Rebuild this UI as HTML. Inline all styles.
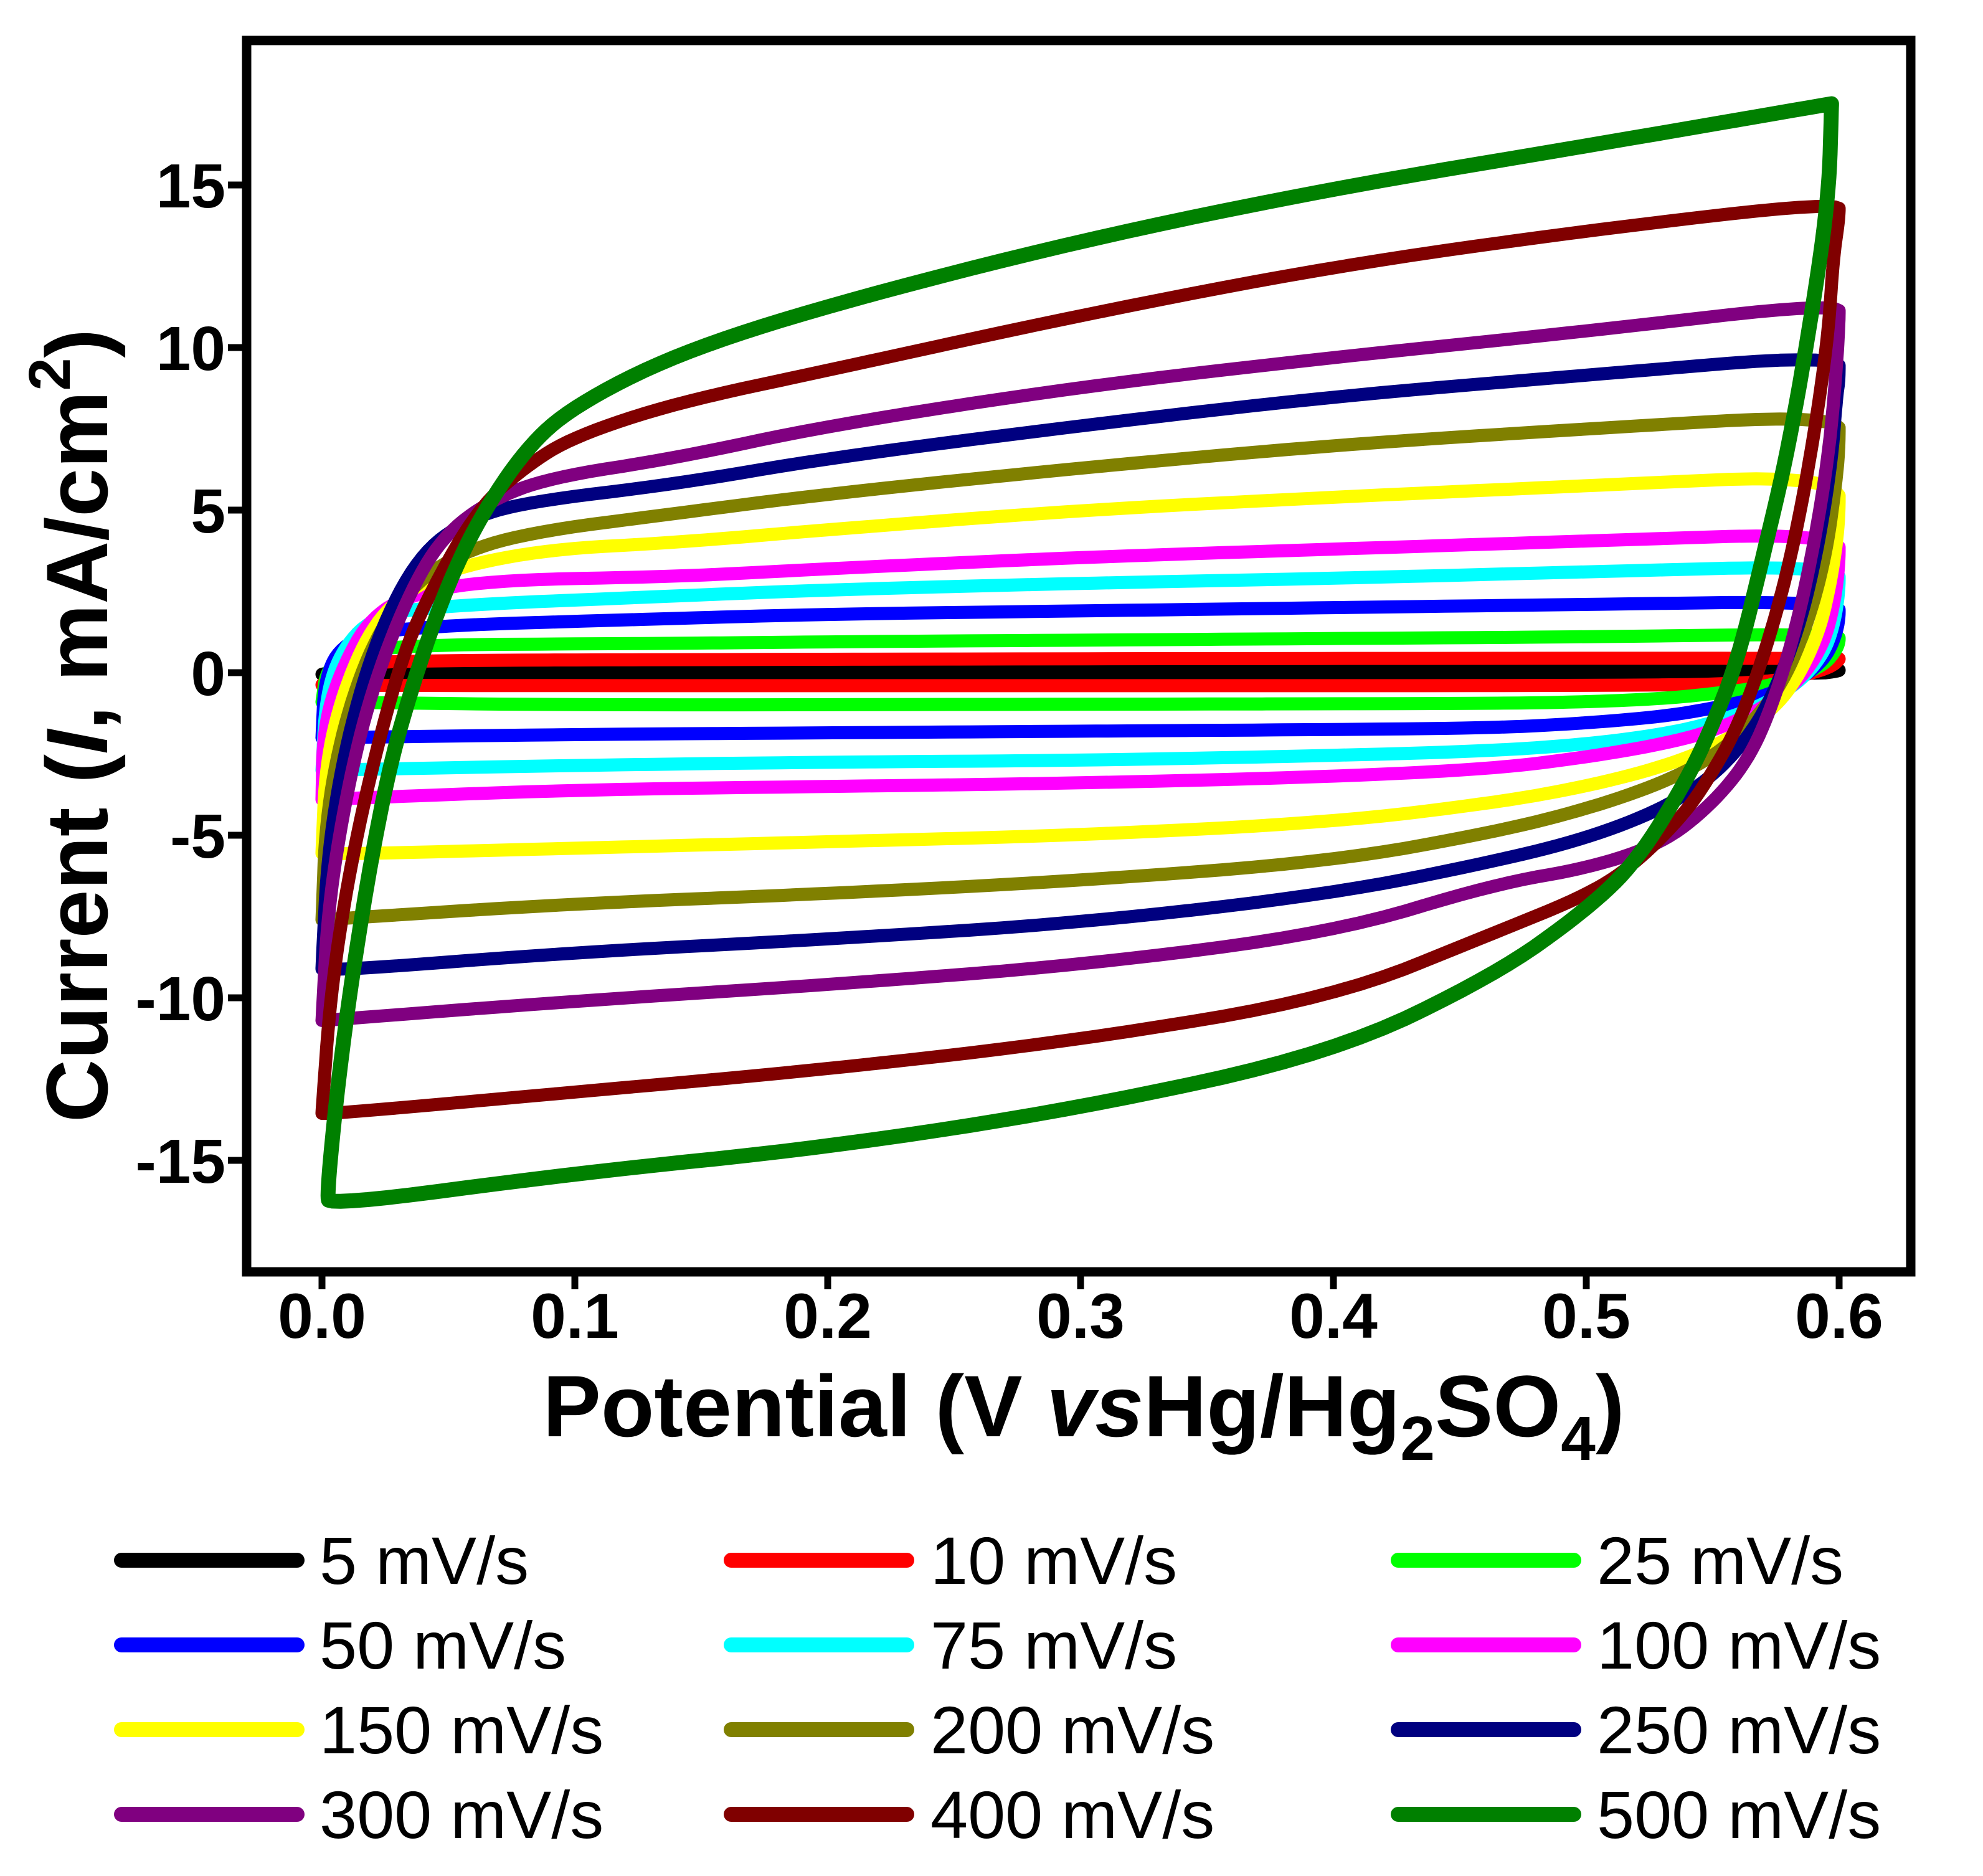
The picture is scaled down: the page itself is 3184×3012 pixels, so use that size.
<!DOCTYPE html>
<html><head><meta charset="utf-8"><style>
html,body{margin:0;padding:0;background:#fff}
svg{display:block}
text{font-family:"Liberation Sans",Arial,sans-serif}
</style></head><body>
<svg id="chart" width="3184" height="3012" viewBox="0 0 3184 3012" xmlns="http://www.w3.org/2000/svg">
<rect x="0" y="0" width="3184" height="3012" fill="#fff"/>
<g id="curves"></g>
<rect x="396" y="65" width="2672" height="1977" fill="none" stroke="#000" stroke-width="15"/>
<g id="axes"></g>
<text x="1740" y="2306" font-size="140" font-weight="bold" text-anchor="middle">Potential (V <tspan font-style="italic">vs</tspan>Hg/Hg<tspan font-size="100" dy="38">2</tspan><tspan dy="-38">SO</tspan><tspan font-size="100" dy="38">4</tspan><tspan dy="-38">)</tspan></text>
<text transform="translate(172,1165) rotate(-90)" font-size="140" font-weight="bold" text-anchor="middle">Current (<tspan font-style="italic">I</tspan>, mA/cm<tspan font-size="95" dy="-60">2</tspan><tspan dy="60">)</tspan></text>
<g id="legend"></g>
</svg>
<script>
const seriesNames = ["5 mV/s","10 mV/s","25 mV/s","50 mV/s","75 mV/s","100 mV/s","150 mV/s","200 mV/s","250 mV/s","300 mV/s","400 mV/s","500 mV/s"];
const seriesColors = ["#000000","#ff0000","#00ff00","#0000ff","#00ffff","#ff00ff","#ffff00","#808000","#000080","#800080","#800000","#008000"];
const xTicks = [0,0.1,0.2,0.3,0.4,0.5,0.6];
const xTickLabels = ["0.0","0.1","0.2","0.3","0.4","0.5","0.6"];
const yTicks = [-15,-10,-5,0,5,10,15];
const yTickLabels = ["-15","-10","-5","0","5","10","15"];

// anodic (upper) branches [potential, current]
const up5 = [[0,-0.05],[0.005,0.05],[0.1,0.07],[0.3,0.08],[0.6,0.1]];
const up10 = [[0,-0.35],[0.01,0.3],[0.05,0.38],[0.14,0.4],[0.3,0.43],[0.6,0.45]];
const up25 = [[0,-0.9],[0.002,0.2],[0.015,0.85],[0.14,0.9],[0.2,0.95],[0.3,1.0],[0.4,1.05],[0.5,1.1],[0.6,1.2]];
const up50 = [[0,-2.0],[0.001,-0.25],[0.007,0.8],[0.024,1.4],[0.14,1.67],[0.2,1.8],[0.3,1.9],[0.4,2.0],[0.5,2.1],[0.6,2.2]];
const up75 = [[0,-3.0],[0.0015,-0.8],[0.007,0.6],[0.0195,1.7],[0.043,2.05],[0.14,2.36],[0.2,2.55],[0.3,2.75],[0.4,2.9],[0.5,3.1],[0.6,3.3]];
const up100 = [[0,-3.9],[0.0005,-1.73],[0.0072,0.05],[0.0195,1.76],[0.0386,2.5],[0.0716,2.86],[0.14,2.95],[0.2,3.2],[0.3,3.55],[0.4,3.8],[0.5,4.05],[0.6,4.3]];
const up150 = [[0,-5.5],[0.0015,-2.8],[0.0082,-0.62],[0.0195,1.4],[0.0335,2.5],[0.052,3.23],[0.09,3.8],[0.14,4.0],[0.2,4.4],[0.3,5.0],[0.4,5.4],[0.5,5.75],[0.6,6.1]];
const up200 = [[0,-7.6],[0.0015,-4.5],[0.0082,-1.7],[0.0195,0.85],[0.0335,2.5],[0.052,3.6],[0.0806,4.3],[0.14,4.9],[0.2,5.5],[0.3,6.3],[0.4,7.0],[0.5,7.5],[0.6,7.95]];
const up250 = [[0,-9.0],[0.0024,-5.4],[0.0099,-2.0],[0.0222,1.2],[0.0382,3.6],[0.057,4.7],[0.0806,5.25],[0.14,5.8],[0.2,6.6],[0.3,7.6],[0.4,8.5],[0.5,9.15],[0.6,9.8]];
const up300 = [[0,-10.7],[0.0024,-7.2],[0.0099,-3.6],[0.0194,-0.6],[0.0335,2.3],[0.0477,4.2],[0.0665,5.3],[0.09,6.0],[0.14,6.6],[0.2,7.6],[0.3,8.8],[0.4,9.7],[0.5,10.5],[0.6,11.4]];
const up400 = [[0,-13.5],[0.0033,-9.97],[0.0099,-6.5],[0.0194,-3.0],[0.0316,0.48],[0.0429,2.5],[0.0618,5.06],[0.0806,6.35],[0.0995,7.26],[0.14,8.3],[0.2,9.3],[0.3,11.0],[0.4,12.5],[0.5,13.6],[0.6,14.5]];
const up500 = [[0.002,-16.0],[0.0062,-12.7],[0.0118,-9.4],[0.0194,-5.75],[0.027,-2.8],[0.0363,-0.25],[0.0486,2.5],[0.0618,4.7],[0.0806,6.9],[0.0995,8.2],[0.14,9.8],[0.2,11.3],[0.3,13.3],[0.4,14.9],[0.5,16.2],[0.597,17.5]];

// cathodic (lower) branches [potential, current]
const down5 = [[0.6,0.05],[0.59,-0.05],[0.3,-0.05],[0,-0.05]];
const down10 = [[0.6,0.4],[0.598,0.25],[0.594,0.1],[0.585,-0.1],[0.57,-0.3],[0.53,-0.4],[0.3,-0.4],[0,-0.4]];
const down25 = [[0.6,0.9],[0.598,0.6],[0.594,0.25],[0.585,-0.1],[0.57,-0.45],[0.55,-0.65],[0.53,-0.8],[0.5,-0.9],[0.464,-0.95],[0.3,-0.97],[0.1,-1.0],[0,-0.9]];
const down50 = [[0.6,1.6],[0.598,1.0],[0.594,0.4],[0.585,-0.2],[0.57,-0.75],[0.55,-1.1],[0.53,-1.35],[0.5,-1.55],[0.464,-1.7],[0.4,-1.75],[0.3,-1.8],[0.2,-1.85],[0.1,-1.9],[0,-2.0]];
const down75 = [[0.6,2.5],[0.598,1.5],[0.594,0.6],[0.585,-0.25],[0.57,-1.0],[0.55,-1.55],[0.53,-1.9],[0.5,-2.2],[0.464,-2.4],[0.4,-2.55],[0.3,-2.7],[0.2,-2.75],[0.1,-2.85],[0,-3.0]];
const down100 = [[0.6,3.3],[0.598,2.1],[0.594,0.9],[0.585,-0.2],[0.57,-1.1],[0.55,-1.8],[0.53,-2.2],[0.5,-2.6],[0.464,-2.95],[0.4,-3.2],[0.3,-3.4],[0.2,-3.5],[0.1,-3.6],[0,-3.9]];
const down150 = [[0.6,4.6],[0.597,2.9],[0.592,1.2],[0.582,-0.4],[0.57,-1.4],[0.55,-2.3],[0.53,-2.9],[0.5,-3.5],[0.464,-4.0],[0.4,-4.6],[0.3,-5.0],[0.2,-5.2],[0.1,-5.4],[0,-5.6]];
const down200 = [[0.6,7.0],[0.599,6.0],[0.595,3.7],[0.588,1.6],[0.578,-0.3],[0.565,-1.6],[0.55,-2.6],[0.53,-3.4],[0.5,-4.2],[0.464,-4.9],[0.4,-5.8],[0.3,-6.4],[0.2,-6.8],[0.1,-7.1],[0,-7.6]];
const down250 = [[0.6,9.0],[0.599,8.5],[0.597,6.5],[0.592,4.0],[0.585,1.6],[0.575,-0.5],[0.565,-1.9],[0.55,-3.2],[0.53,-4.2],[0.5,-5.1],[0.464,-5.8],[0.4,-6.8],[0.3,-7.7],[0.2,-8.2],[0.1,-8.6],[0,-9.2]];
const down300 = [[0.6,10.8],[0.5988,9.2],[0.596,6.8],[0.5905,4.1],[0.583,1.36],[0.5735,-1.03],[0.564,-2.7],[0.549,-4.1],[0.53,-5.25],[0.5016,-6.0],[0.4638,-6.5],[0.4,-8.0],[0.3,-9.0],[0.2,-9.6],[0.1,-10.1],[0,-10.7]];
const down400 = [[0.6,14.0],[0.5976,12.7],[0.5958,10.5],[0.5911,7.8],[0.5845,4.85],[0.577,2.3],[0.5676,-0.1],[0.5582,-1.93],[0.5488,-3.2],[0.5393,-4.3],[0.5205,-5.8],[0.5016,-6.8],[0.4638,-8.0],[0.4,-10.0],[0.3,-11.3],[0.2,-12.2],[0.1,-12.9],[0,-13.6]];
const down500 = [[0.597,17.5],[0.596,14.75],[0.59,11.4],[0.58,6.9],[0.57,3.6],[0.56,0.4],[0.549,-1.8],[0.539,-3.4],[0.52,-5.8],[0.5,-7.3],[0.464,-9.3],[0.4,-11.7],[0.3,-13.4],[0.2,-14.6],[0.1,-15.4],[0.003,-16.4]];

const upBranches = [up5,up10,up25,up50,up75,up100,up150,up200,up250,up300,up400,up500];
const downBranches = [down5,down10,down25,down50,down75,down100,down150,down200,down250,down300,down400,down500];

const NS = "http://www.w3.org/2000/svg";
function xScale(v){ return 517 + v * 4060; }
function yScale(v){ return 1080 - v * 52.2; }

function chaikin(pts, iters){
  let p = pts;
  for (let it = 0; it < iters; it++) {
    const q = [];
    const n = p.length;
    for (let i = 0; i < n; i++) {
      const a = p[i], b = p[(i + 1) % n];
      q.push([0.75*a[0]+0.25*b[0], 0.75*a[1]+0.25*b[1]]);
      q.push([0.25*a[0]+0.75*b[0], 0.25*a[1]+0.75*b[1]]);
    }
    p = q;
  }
  return p;
}

const curves = document.getElementById('curves');
for (let i = 0; i < seriesNames.length; i++) {
  const raw = upBranches[i].concat(downBranches[i]).map(p => [xScale(p[0]), yScale(p[1])]);
  const pts = chaikin(raw, 3);
  let d = '';
  pts.forEach((p, k) => { d += (k ? 'L' : 'M') + p[0].toFixed(1) + ',' + p[1].toFixed(1); });
  d += 'Z';
  const path = document.createElementNS(NS, 'path');
  path.setAttribute('d', d);
  path.setAttribute('fill', 'none');
  path.setAttribute('stroke', seriesColors[i]);
  path.setAttribute('stroke-width', i === 11 ? 24 : 21);
  path.setAttribute('stroke-linejoin', 'round');
  path.setAttribute('stroke-linecap', 'round');
  
  
  curves.appendChild(path);
}

const axes = document.getElementById('axes');
xTicks.forEach((t, k) => {
  const x = xScale(t);
  const ln = document.createElementNS(NS, 'line');
  ln.setAttribute('x1', x); ln.setAttribute('x2', x);
  ln.setAttribute('y1', 2042); ln.setAttribute('y2', 2070);
  ln.setAttribute('stroke', '#000'); ln.setAttribute('stroke-width', 11);
  
  
  axes.appendChild(ln);
  const tx = document.createElementNS(NS, 'text');
  tx.setAttribute('x', x); tx.setAttribute('y', 2148);
  tx.setAttribute('font-size', 102); tx.setAttribute('font-weight', 'bold');
  tx.setAttribute('text-anchor', 'middle');
  tx.textContent = xTickLabels[k];
  
  
  axes.appendChild(tx);
});
yTicks.forEach((t, k) => {
  const y = yScale(t);
  const ln = document.createElementNS(NS, 'line');
  ln.setAttribute('x1', 366); ln.setAttribute('x2', 396);
  ln.setAttribute('y1', y); ln.setAttribute('y2', y);
  ln.setAttribute('stroke', '#000'); ln.setAttribute('stroke-width', 11);
  
  
  axes.appendChild(ln);
  const tx = document.createElementNS(NS, 'text');
  tx.setAttribute('x', 362); tx.setAttribute('y', y + 36);
  tx.setAttribute('font-size', 100); tx.setAttribute('font-weight', 'bold');
  tx.setAttribute('text-anchor', 'end');
  tx.textContent = yTickLabels[k];
  
  
  axes.appendChild(tx);
});

const legend = document.getElementById('legend');
const colX = [183, 1162, 2233];
const textX = [513, 1494, 2564];
const rowY = [2505, 2641, 2777, 2913];
for (let i = 0; i < seriesNames.length; i++) {
  const c = i % 3, r = Math.floor(i / 3);
  const g = document.createElementNS(NS, 'g');
  
  
  const ln = document.createElementNS(NS, 'line');
  ln.setAttribute('x1', colX[c] + 12); ln.setAttribute('x2', colX[c] + 294);
  ln.setAttribute('y1', rowY[r]); ln.setAttribute('y2', rowY[r]);
  ln.setAttribute('stroke', seriesColors[i]); ln.setAttribute('stroke-width', 24);
  ln.setAttribute('stroke-linecap', 'round');
  
  
  g.appendChild(ln);
  const tx = document.createElementNS(NS, 'text');
  tx.setAttribute('x', textX[c]); tx.setAttribute('y', rowY[r] + 38);
  tx.setAttribute('font-size', 108);
  tx.textContent = seriesNames[i];
  
  
  g.appendChild(tx);
  legend.appendChild(g);
}
</script>
</body></html>
